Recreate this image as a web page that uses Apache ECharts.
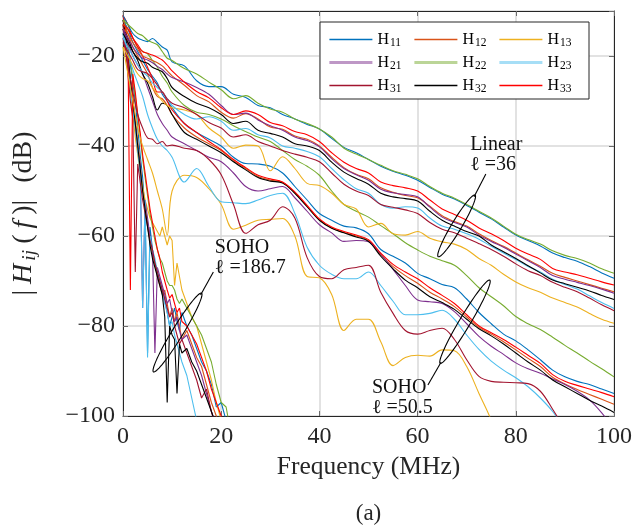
<!DOCTYPE html>
<html><head><meta charset="utf-8">
<script src="https://cdn.jsdelivr.net/npm/echarts@6/dist/echarts.min.js"></script>
<style>html,body{margin:0;padding:0;background:#fff}#c{width:633px;height:527px}</style>
</head><body><div id="c"></div>
<script>
// ---------- data ----------
const NAMES = ['H11','H12','H13','H21','H22','H23','H31','H32','H33'];
const COLORS = ['#0072BD','#D95319','#EDB120','#7E2F8E','#77AC30','#4DBEEE','#A2142F','#000000','#FF0000'];
const X_TICKS = [0,20,40,60,80,100];
const Y_TICKS = [-100,-80,-60,-40,-20];

// frequency grid (MHz) for Linear l=36 and SOHO l=50.5 curves
const FREQ = [0,1,2,3,4,5,6,7,8,9,10,12.5,15,17.5,20,22.5,25,27.5,30,32.5,35,37.5,40,42.5,45,47.5,50,52.5,55,57.5,60,62.5,65,67.5,70,72.5,75,77.5,80,82.5,85,87.5,90,92.5,95,97.5,100];
// frequency grid (MHz) for SOHO l=186.7 curves
const FREQ_186 = [0,0.5,1,1.5,2,2.5,3,3.5,4,4.5,5,5.5,6,6.5,7,7.5,8,8.5,9,9.5,10,10.5,11,11.5,12,13,14,15,16,17,18,19,20,21,22];

// Linear, l = 36 (dB)
const lin_H11 = [-11,-13,-15,-16,-16.5,-16.8,-16.1,-17,-18,-18.7,-21.3, -22.2,-25.5,-26.8,-26.8,-28.5,-29.2,-31,-31.5,-33,-34, -35.2,-36.2,-38.3,-40.3,-41.5,-43,-44.5,-45.6,-46.5,-47.6, -49.2,-50.7,-51.8,-53.2,-54.7,-56.2,-58,-59.8,-61,-62.2, -63.8,-64.8,-65.6,-66.8,-68.2,-69.4];
const lin_H12 = [-14,-15,-17,-18.5,-20,-20.5,-21,-21.5,-22.2,-23.3,-24.4, -26.5,-28.8,-30.2,-32.5,-33.8,-32.8,-34,-35.8,-36.3,-37.8, -38.5,-40,-42.5,-44.8,-46.3,-47.3,-49.3,-50.3,-51,-51.5, -53.4,-55.5,-56.8,-57.8,-59.5,-61,-62.3,-63.8,-65.3,-66.7, -68.3,-69.2,-70,-70.8,-71.6,-72.4];
const lin_H13 = [-18,-20,-22,-24,-25,-25.5,-27,-28.5,-30,-31,-31.5, -32,-33,-36,-38,-40.5,-39.8,-40,-45.5,-42.4,-45, -48.3,-48.8,-50.5,-53,-54,-58,-57.2,-59.5,-59.8,-59, -60.5,-61.3,-61.8,-63,-65,-66.5,-68.5,-70.2,-71.5,-72.5, -73.8,-74.8,-75.8,-77.2,-78.5,-79.4];
const lin_H21 = [-14,-16,-18,-19.5,-20.5,-20.9,-21.5,-22.3,-23,-24,-24.8, -25.8,-27,-28.5,-31,-33,-32.7,-34.2,-35.5,-36.5,-38, -38.8,-40.2,-42.8,-45,-46.4,-47.6,-49.6,-50.4,-50.8,-51.3, -53.6,-55.8,-57,-58,-59.8,-61.2,-62.5,-64,-65.5,-67, -68.8,-69.6,-70.3,-71,-71.8,-72.7];
const lin_H22 = [-12,-13,-14,-15,-15.5,-16.5,-17,-17.5,-19,-20.5,-21, -22.8,-24,-25.8,-27.5,-29.5,-28.8,-30.5,-31.8,-32.5,-34, -35,-36.2,-38,-40.5,-41.8,-43,-44.3,-45.5,-46.3,-47.3, -49,-50.5,-51.6,-53,-54.5,-56,-57.8,-59.6,-60.8,-61.8, -63.3,-64.3,-65,-66,-67.3,-68.3];
const lin_H23 = [-16,-18,-20,-22,-23.5,-24.5,-26,-27,-28,-29.5,-31, -33,-34,-33.5,-34.5,-36.5,-36.1,-37.5,-38.2,-40,-40.5, -41.2,-42.4,-45,-47.5,-49.5,-50.5,-53,-53.8,-53.5,-53.8, -56,-57.8,-58.5,-59.5,-60.7,-62.3,-63.8,-65.2,-66.8,-68, -69.6,-70.8,-71.8,-73.3,-74.8,-76.1];
const lin_H31 = [-17,-19,-21,-23,-23.5,-23.9,-25,-26.5,-28,-29.5,-30.5, -31.5,-33,-34.8,-36,-38,-37.5,-39,-40,-41,-41.8, -42.5,-43.5,-46,-48.5,-50,-51,-53,-53.6,-54.2,-55, -57,-58.5,-59.3,-60.5,-61.7,-63,-64.5,-66.2,-67.7,-68.8, -70.3,-71.4,-72.4,-73.8,-75.3,-76.6];
const lin_H32 = [-15,-17,-19,-20.5,-21.3,-21.6,-22.5,-23,-23.5,-25,-27, -29,-30.5,-31.5,-33,-35,-34.5,-36.5,-37.2,-38,-39.5, -40,-41,-43.6,-45.8,-47.2,-48.5,-50.5,-51.3,-51.7,-52.2, -54.5,-56.5,-57.8,-59,-60,-62,-63.5,-65,-66.6,-68.2, -69.8,-70.6,-71.4,-72.2,-73.2,-74.1];
const lin_H33 = [-13,-14,-16,-17.5,-19,-19.4,-19.8,-20.3,-20.9,-22,-23.3, -25.8,-27.9,-29.3,-31.5,-33,-32.2,-33,-34.8,-35.5,-36.8, -37.5,-39,-41.5,-43.6,-45,-46,-48,-48.8,-49.3,-50, -52,-54,-55.2,-56.5,-58.2,-59.5,-61,-62.7,-64,-65.2, -67.2,-68,-68.6,-69.4,-70.2,-70.9];

// SOHO, l = 50.5 (dB)
const s50_H11 = [-12,-14,-17,-19,-21,-23,-24.5,-26,-28.5,-30,-31.5, -35,-37,-38.5,-40,-42.5,-43.9,-44,-44.5,-46,-49, -52,-55,-56.5,-57.8,-58.2,-59.5,-63,-64.5,-66,-68.3, -69.5,-70.8,-71.5,-74,-77,-79.5,-81.8,-83.3,-85.3,-87.5, -89.8,-91.3,-92.3,-93,-94,-95];
const s50_H12 = [-12,-15,-18,-20,-22,-24,-27,-29,-29.5,-31,-33, -36,-38,-39.5,-41,-43.3,-45,-46.8,-47.6,-48.1,-50.4, -53.4,-56.4,-58.2,-59.2,-60,-61,-64.2,-66.8,-68.8,-70.5, -72.5,-74,-75.7,-78,-80.3,-81.8,-83.5,-85.3,-87.2,-89, -91.4,-92.9,-94.1,-95.2,-96.3,-97.4];
const s50_H13 = [-18,-24,-30,-36,-40,-43,-46,-50,-54,-59.8,-50, -46.5,-47,-49.5,-53,-58.5,-57.6,-56.5,-56.3,-56.1,-60, -69,-69.3,-73,-81,-78.5,-78.5,-83.5,-88.8,-87,-86.5, -86.7,-85.3,-85.5,-89,-95,-101,-110,-118,-120,-120, -120,-120,-120,-120,-120,-120];
const s50_H21 = [-14,-17,-20,-22,-24,-27,-30,-33,-35,-36.5,-38, -39.5,-41,-42.5,-43.5,-46,-49,-50,-49.5,-49,-51.5, -54.5,-57.5,-59.3,-61.2,-61,-61.3,-64,-67.4,-71,-74.2, -74.6,-75,-76.8,-79.5,-82.3,-84.5,-86.3,-88.2,-89.5,-90.5, -91.8,-93,-94.5,-96.4,-99.3,-103];
const s50_H22 = [-13,-14,-16,-18,-19,-19.5,-21,-22.5,-24.5,-26,-28, -31,-32.5,-33,-34,-35.5,-36.8,-38,-39,-41,-43, -44.5,-46.5,-50,-53,-54.5,-55.8,-57.7,-59.5,-61.5,-63.1, -64.5,-65.5,-66.5,-68.8,-71.5,-73.5,-75.5,-77.9,-79.5,-80.8, -82.5,-84.3,-86,-87.8,-89.5,-91.3];
const s50_H23 = [-15,-19,-23,-26,-29,-33,-36,-38.5,-40,-41,-42.5, -48,-45,-49,-52.4,-52.6,-52.8,-52,-51,-50.5,-55, -62.5,-66.5,-68.5,-69.5,-69.5,-68,-71,-74.5,-77.5,-77.5, -77.2,-76.5,-78.5,-82,-85.2,-87.8,-89.8,-91.5,-93.5,-96, -99,-103,-108,-112,-115,-118];
const s50_H31 = [-16,-22,-28,-33,-36,-38.2,-38.5,-39.5,-39,-40,-39.8, -40.5,-41,-43,-46.4,-53,-59.4,-57.5,-56.5,-53.5,-56, -64.8,-69,-69.5,-67.5,-67,-66.5,-72.5,-77.2,-81,-81.8, -81,-80.5,-83,-87.5,-91.2,-92.3,-92.5,-92.6,-92.8,-94.5, -98.5,-103,-108,-112,-115,-118];
const s50_H32 = [-14,-16,-19,-21,-24,-26,-29,-32,-30.5,-31,-33, -37,-38.5,-40,-41.5,-43.5,-45.3,-47,-47.8,-48.2,-50.5, -53.5,-56.5,-58.3,-59.3,-60.2,-61.2,-64.5,-67.3,-69.8,-71.5, -73.5,-74.8,-76.3,-78.5,-80.6,-82.2,-84,-86,-88,-89.8, -92,-93.5,-95,-96.5,-97.8,-99.2];
const s50_H33 = [-11,-13,-16,-18,-20,-22.5,-25,-28,-28,-30,-32, -35,-37,-39,-40.8,-43,-44.8,-46.5,-47.3,-48,-50.2, -53.2,-56.2,-58,-59,-59.8,-60.8,-63.8,-66.3,-68,-69.5, -71.5,-73.2,-75,-77.5,-80,-81.5,-83,-84.7,-86.5,-88.3, -90.8,-92.3,-93.2,-94,-94.8,-95.7];

// SOHO, l = 186.7 (dB)
const s186_H11 = [-12,-14,-18,-22,-26,-30,-36,-42,-47,-55, -86,-58,-63,-66,-68,-70,-72,-74,-77,-80, -78,-76,-79,-81,-77,-80,-82,-85,-88,-90, -93,-98,-97,-101,-105];
const s186_H12 = [-13,-16,-20,-25,-29,-34,-39,-44,-50,-54, -57,-61,-64,-66,-69,-71,-73,-72,-75,-78, -76,-79,-77,-80,-83,-81,-84,-87,-89,-93, -97,-100,-103,-106,-108];
const s186_H13 = [-14,-17,-22,-28,-33,-38,-42,-46,-49,-52, -54,-56,-57,-58,-59,-60,-58,-60,-62,-60, -61,-71,-66,-69,-72,-75,-78,-80,-84,-88, -92,-97,-101,-104,-108];
const s186_H21 = [-14,-17,-22,-27,-31,-35,-41,-44,-76,-52, -56,-60,-63,-86,-67,-69,-71,-73,-75,-74, -77,-79,-78,-81,-83,-82,-85,-88,-91,-95, -99,-102,-105,-108,-110];
const s186_H22 = [-11,-13,-17,-21,-25,-29,-33,-38,-43,-47, -51,-55,-58,-61,-63,-65,-66,-68,-70,-71, -71,-72,-74,-75,-74,-76,-78,-80,-82,-85, -88,-93,-97,-98,-104];
const s186_H23 = [-15,-18,-22,-27,-32,-36,-41,-46,-76,-52, -87,-60,-63,-65,-68,-70,-73,-75,-77,-80, -79,-82,-84,-86,-88,-91,-96,-101,-105,-108, -110,-110,-110,-110,-110];
const s186_H31 = [-13,-18,-24,-30,-34,-68,-44,-48,-52,-55, -58,-61,-63,-66,-68,-70,-72,-74,-76,-78, -77,-80,-82,-84,-83,-86,-89,-92,-96,-94, -99,-103,-106,-108,-110];
const s186_H32 = [-12,-15,-20,-25,-30,-35,-40,-45,-50,-54, -58,-62,-65,-67,-69,-71,-73,-78,-97,-80, -82,-83,-95,-84,-86,-85,-88,-90,-93,-96, -99,-102,-105,-108,-110];
const s186_H33 = [-11,-14,-17,-72,-24,-28,-33,-37,-42,-46, -50,-54,-57,-60,-63,-65,-68,-70,-72,-73.8, -73,-75,-77,-76,-79,-80,-82,-84,-87,-90, -94,-97,-100,-102,-106];

const LIN  = [lin_H11, lin_H12, lin_H13, lin_H21, lin_H22, lin_H23, lin_H31, lin_H32, lin_H33];
const S50  = [s50_H11, s50_H12, s50_H13, s50_H21, s50_H22, s50_H23, s50_H31, s50_H32, s50_H33];
const S186 = [s186_H11, s186_H12, s186_H13, s186_H21, s186_H22, s186_H23, s186_H31, s186_H32, s186_H33];

// ---------- chart ----------
const FONT = 'Liberation Serif';
const INK = '#262626';
const chart = echarts.init(document.getElementById('c'), null, {renderer: 'canvas'});

const series = [];
function addGroup(freq, arrs, smooth, z) {
  NAMES.forEach((n, i) => {
    series.push({
      type: 'line', name: n,
      data: freq.map((f, k) => [f, arrs[i][k]]),
      showSymbol: false, symbol: 'none', smooth: smooth, clip: true,
      lineStyle: {width: 1.1, color: COLORS[i]},
      itemStyle: {color: COLORS[i]},
      emphasis: {disabled: true}, silent: true, z: z
    });
  });
}
addGroup(FREQ_186, S186, false, 2);
addGroup(FREQ, S50, 0.35, 2);
addGroup(FREQ, LIN, 0.35, 2);

const legendRich = {
  h: {fontFamily: FONT, fontSize: 16, color: '#000', lineHeight: 18},
  s: {fontFamily: FONT, fontSize: 11.5, color: '#000', lineHeight: 18, padding: [7, 0, 0, 1]}
};
const legends = [0, 1, 2].map(c => ({
  orient: 'vertical', left: 328 + c * 85, top: 30,
  itemWidth: 43, itemHeight: 14, itemGap: 4, itemTextGap: 6,
  padding: 0, selectedMode: false,
  itemStyle: {opacity: 0},            // hide the marker, keep only the line
  data: [c, c + 3, c + 6].map((idx, r) => ({
    name: NAMES[idx],
    itemStyle: {opacity: 0},
    lineStyle: r === 1
      ? {color: COLORS[idx], width: 2.8, opacity: 0.5}
      : {color: COLORS[idx], width: 1.4, opacity: 1}
  })),
  formatter: n => '{h|H}{s|' + n.slice(1) + '}',
  textStyle: {rich: legendRich},
  z: 6
}));

const minus = v => (v < 0 ? '\u2212' + Math.abs(v) : String(v));

chart.setOption({
  animation: false,
  textStyle: {fontFamily: FONT},
  grid: {left: 123, right: 19, top: 11, bottom: 111, containLabel: false, outerBoundsMode: 'none'},
  xAxis: [{
    type: 'value', min: X_TICKS[0], max: X_TICKS[X_TICKS.length - 1], interval: 20, position: 'bottom',
    axisLine: {show: true, onZero: false, lineStyle: {color: INK, width: 1}},
    axisTick: {show: true, inside: true, length: 5, lineStyle: {color: '#6b6b6b'}},
    axisLabel: {fontFamily: FONT, fontSize: 24, color: INK, margin: 9, formatter: minus},
    splitLine: {show: true, lineStyle: {color: '#d9d9d9', width: 1.5}},
    name: 'Frequency (MHz)', nameLocation: 'middle', nameGap: 38,
    nameTextStyle: {fontFamily: FONT, fontSize: 25.5, color: INK, verticalAlign: 'top'}
  }, {
    type: 'value', min: 0, max: 100, interval: 20, position: 'top',
    axisLine: {show: true, onZero: false, lineStyle: {color: INK, width: 1}},
    axisTick: {show: true, inside: true, length: 5, lineStyle: {color: '#6b6b6b'}},
    axisLabel: {show: false}, splitLine: {show: false}
  }],
  yAxis: [{
    type: 'value', min: Y_TICKS[0], max: -10, interval: 20, position: 'left',
    axisLine: {show: true, onZero: false, lineStyle: {color: INK, width: 1}},
    axisTick: {show: true, inside: true, length: 5, lineStyle: {color: '#6b6b6b'}},
    axisLabel: {fontFamily: FONT, fontSize: 24, color: INK, margin: 8, formatter: minus, showMaxLabel: false},
    splitLine: {show: true, lineStyle: {color: '#d9d9d9', width: 1.5}},
    name: '{b||}{i|H}{s|ij}{b|(}{i|f}{b|)|}{g| }{b|(dB)}', nameLocation: 'middle', nameGap: 83, nameRotate: 90,
    nameTextStyle: {
      fontFamily: FONT, fontSize: 28, color: INK,
      rich: {
        b: {fontFamily: FONT, fontSize: 28, color: INK, padding: [0, 3, 0, 3]},
        g: {fontFamily: FONT, fontSize: 28, color: INK, padding: [0, 2, 0, 2]},
        i: {fontFamily: FONT, fontStyle: 'italic', fontSize: 28, color: INK, padding: [0, 3, 0, 3]},
        s: {fontFamily: FONT, fontStyle: 'italic', fontSize: 19.5, color: INK, padding: [12, 3, 0, 0]}
      }
    }
  }, {
    type: 'value', min: -100, max: -10, interval: 20, position: 'right',
    axisLine: {show: true, onZero: false, lineStyle: {color: INK, width: 1}},
    axisTick: {show: true, inside: true, length: 5, lineStyle: {color: '#6b6b6b'}},
    axisLabel: {show: false}, splitLine: {show: false}
  }],
  legend: legends,
  series: series
});

// ---------- annotations (placed through the axes' own scales) ----------
const px = (f, d) => chart.convertToPixel({xAxisIndex: 0, yAxisIndex: 0}, [f, d]);
function ellipse(endA, endB, semiMinor) {
  const a = px(endA[0], endA[1]), b = px(endB[0], endB[1]);
  const cx = (a[0] + b[0]) / 2, cy = (a[1] + b[1]) / 2;
  const ang = Math.atan2(b[1] - a[1], b[0] - a[0]);
  const A = Math.hypot(b[0] - a[0], b[1] - a[1]) / 2;
  const pts = [];
  for (let k = 0; k < 72; k++) {
    const t = k / 72 * Math.PI * 2;
    const ex = A * Math.cos(t), ey = semiMinor * Math.sin(t);
    pts.push([cx + ex * Math.cos(ang) - ey * Math.sin(ang), cy + ex * Math.sin(ang) + ey * Math.cos(ang)]);
  }
  return {type: 'polygon', shape: {points: pts}, style: {fill: 'none', stroke: '#000', lineWidth: 1.1}, z: 5, silent: true};
}
function leader(p0, p1) {
  const a = px(p0[0], p0[1]), b = px(p1[0], p1[1]);
  return {type: 'line', shape: {x1: a[0], y1: a[1], x2: b[0], y2: b[1]}, style: {stroke: '#000', lineWidth: 1.1}, z: 5, silent: true};
}
function label(txt, at) {
  const p = px(at[0], at[1]);
  return {type: 'text', x: p[0], y: p[1], z: 6, silent: true,
    style: {text: txt, fontFamily: FONT, fontSize: 20, fill: '#111', textAlign: 'left', textVerticalAlign: 'middle'}};
}
const gc = px(50, -100);
chart.setOption({
  graphic: [
    {type: 'rect', shape: {x: 320, y: 22, width: 269, height: 77}, style: {fill: '#fff', stroke: INK, lineWidth: 1}, z: 5, silent: true},
    ellipse([64.2, -64.6], [71.7, -50.9], 5),
    leader([71.5, -51.3], [73.9, -46.2]),
    label('Linear', [70.7, -39.8]),
    label('\u2113 =36', [70.7, -44.2]),
    ellipse([64.6, -88.3], [74.7, -69.8], 5.5),
    leader([64.8, -88.0], [62.1, -93.1]),
    label('SOHO', [50.7, -93.8]),
    label('\u2113 =50.5', [50.7, -98.2]),
    ellipse([6.2, -90.2], [16.0, -72.7], 5.5),
    leader([15.8, -73.1], [18.4, -68.0]),
    label('SOHO', [18.7, -62.7]),
    label('\u2113 =186.7', [18.7, -67.1]),
    {type: 'text', x: gc[0], y: 514, z: 6, silent: true,
      style: {text: '(a)', fontFamily: FONT, fontSize: 23, fill: INK, textAlign: 'center', textVerticalAlign: 'middle'}}
  ]
});
</script>
</body></html>
